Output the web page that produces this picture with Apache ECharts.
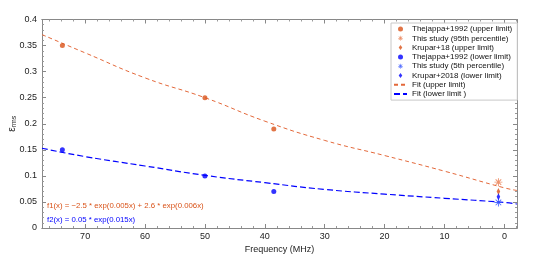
<!DOCTYPE html>
<html><head><meta charset="utf-8">
<script src="https://cdn.jsdelivr.net/npm/echarts@6/dist/echarts.min.js"></script>
<style>html,body{margin:0;padding:0;background:#fff}#c{width:540px;height:257px}</style>
</head><body><div id="c"></div>
<script>
// ---- data ----
const thejappaUpper = [[73.8, 0.35], [50, 0.25], [38.5, 0.19]];
const thejappaLower = [[73.8, 0.15], [50, 0.10], [38.5, 0.07]];
const studyUpper = [[1, 0.088]];
const studyLower = [[1, 0.049]];
const kruparUpper = [[1, 0.070]];
const kruparLower = [[1, 0.060]];
const fitUpper = [[77.2, 0.371], [70, 0.336], [60, 0.288], [50, 0.250], [40, 0.205], [30, 0.168], [20, 0.139], [10, 0.109], [0, 0.077], [-2.1, 0.072]];
const fitLower = [[77.2, 0.153], [70, 0.137], [60, 0.119], [50, 0.101], [40, 0.087], [30, 0.074], [20, 0.065], [10, 0.057], [0, 0.049], [-2.1, 0.046]];
const xRange = [-2.1, 77.2];
const yRange = [0, 0.4];
const xMajorTicks = [0, 10, 20, 30, 40, 50, 60, 70];
const xMinorTicks = [-2, 2, 4, 6, 8, 12, 14, 16, 18, 22, 24, 26, 28, 32, 34, 36, 38, 42, 44, 46, 48, 52, 54, 56, 58, 62, 64, 66, 68, 72, 74, 76];
const f1Text = 'f1(x) = \u22122.5 * exp(0.005x) + 2.6 * exp(0.006x)';
const f2Text = 'f2(x) = 0.05 * exp(0.015x)';
const legendNames = ['Thejappa+1992 (upper limit)', 'This study (95th percentile)', 'Krupar+18 (upper limit)',
  'Thejappa+1992 (lower limit)', 'This study (5th percentile)', 'Krupar+2018 (lower limit)',
  'Fit (upper limit)', 'Fit (lower limit )'];

const ORANGE = '#D95319';
const BLUE = '#0000FF';
const AST = 'path://M-0.6,-5L0.6,-5L0.6,5L-0.6,5ZM-5,-0.6L5,-0.6L5,0.6L-5,0.6ZM-3.08,-3.92L3.92,3.08L3.08,3.92L-3.92,-3.08ZM3.08,-3.92L3.92,-3.08L-3.08,3.92L-3.92,3.08Z';
const DIA = 'path://M0,-7L5,0L0,7L-5,0Z';
const FONT = 'Liberation Sans';
const AXC = '#888';

function xAx(opts) {
  return Object.assign({
    type: 'value', inverse: true, min: xRange[0], max: xRange[1],
    axisLine: {show: true, onZero: false, lineStyle: {color: AXC}},
    axisTick: {show: false}, axisLabel: {show: false}, splitLine: {show: false},
  }, opts);
}
function yAx(opts) {
  return Object.assign({
    type: 'value', min: yRange[0], max: yRange[1], interval: 0.05,
    axisLine: {show: true, onZero: false, lineStyle: {color: AXC}},
    axisTick: {show: true, inside: true, length: 4, lineStyle: {color: AXC}},
    minorTick: {show: true, splitNumber: 5, length: 2, lineStyle: {color: '#999'}},
    axisLabel: {show: false}, splitLine: {show: false},
  }, opts);
}

const chart = echarts.init(document.getElementById('c'), null, {renderer: 'canvas'});
chart.setOption({
  animation: false,
  textStyle: {fontFamily: FONT},
  grid: {left: 42, right: 23, top: 19.5, bottom: 29, containLabel: false, outerBoundsMode: 'none'},
  xAxis: [
    xAx({
      position: 'bottom',
      axisTick: {show: true, inside: true, length: 4, customValues: xMajorTicks, lineStyle: {color: AXC}},
      axisLabel: {show: true, customValues: xMajorTicks, fontSize: 9, color: '#222', margin: 4, fontFamily: FONT},
      name: 'Frequency (MHz)', nameLocation: 'middle', nameGap: 17, nameMoveOverlap: false,
      nameTextStyle: {fontSize: 9, color: '#222', fontFamily: FONT},
    }),
    xAx({position: 'bottom', axisTick: {show: true, inside: true, length: 2, customValues: xMinorTicks, lineStyle: {color: '#999'}}}),
    xAx({
      position: 'top',
      axisTick: {show: true, inside: true, length: 4, customValues: xMajorTicks, lineStyle: {color: AXC}},
    }),
    xAx({position: 'top', axisTick: {show: true, inside: true, length: 2, customValues: xMinorTicks, lineStyle: {color: '#999'}}}),
  ],
  yAxis: [
    yAx({
      position: 'left',
      name: '{e|\u03b5}{s|rms}', nameLocation: 'middle', nameGap: 24, nameRotate: 90, nameMoveOverlap: false,
      nameTextStyle: {rich: {e: {fontSize: 10, color: '#222', fontFamily: FONT}, s: {fontSize: 7, color: '#222', verticalAlign: 'bottom', padding: [4, 0, 0, 0], fontFamily: FONT}}},
      axisLabel: {show: true, fontSize: 9, color: '#222', margin: 5, fontFamily: FONT},
    }),
    yAx({position: 'right'}),
  ],
  legend: {
    orient: 'vertical', left: 391, top: 23,
    backgroundColor: '#fff', borderColor: '#c8c8c8', borderWidth: 1,
    padding: [2, 5, 2, 2],
    itemWidth: 13, itemHeight: 5, itemGap: 1.3, symbolKeepAspect: true,
    textStyle: {fontSize: 8, lineHeight: 8, color: '#111', fontFamily: FONT},
    data: legendNames.map(function (n, i) {
      return i >= 6 ? {name: n, itemStyle: {color: 'rgba(0,0,0,0)', borderWidth: 0, opacity: 0}} : {name: n};
    }),
  },
  graphic: [
    {type: 'text', left: 47, top: 202, style: {text: f1Text, fill: ORANGE, font: '7.8px "Liberation Sans"'}},
    {type: 'text', left: 47, top: 215.5, style: {text: f2Text, fill: BLUE, font: '7.8px "Liberation Sans"'}},
  ],
  series: [
    {name: legendNames[6], type: 'line', xAxisIndex: 0, yAxisIndex: 0, data: fitUpper, smooth: true, symbol: 'none', z: 1,
     lineStyle: {color: '#E3683A', width: 1, type: [4, 3]}, itemStyle: {color: '#E3683A'}},
    {name: legendNames[7], type: 'line', xAxisIndex: 0, yAxisIndex: 0, data: fitLower, smooth: true, symbol: 'none', z: 1,
     lineStyle: {color: BLUE, width: 1.2, type: [6, 3]}, itemStyle: {color: BLUE}},
    {name: legendNames[0], type: 'scatter', data: thejappaUpper, symbol: 'circle', symbolSize: 5, itemStyle: {color: ORANGE}, z: 3},
    {name: legendNames[1], type: 'scatter', data: studyUpper, symbol: AST, symbolSize: 8, symbolKeepAspect: true, itemStyle: {color: '#E8784A'}, z: 3},
    {name: legendNames[2], type: 'scatter', data: kruparUpper, symbol: DIA, symbolSize: [5, 7], symbolKeepAspect: true, itemStyle: {color: ORANGE}, z: 3},
    {name: legendNames[3], type: 'scatter', data: thejappaLower, symbol: 'circle', symbolSize: 5, itemStyle: {color: BLUE}, z: 3},
    {name: legendNames[4], type: 'scatter', data: studyLower, symbol: AST, symbolSize: 8, symbolKeepAspect: true, itemStyle: {color: '#3050FF'}, z: 3},
    {name: legendNames[5], type: 'scatter', data: kruparLower, symbol: DIA, symbolSize: [5, 7], symbolKeepAspect: true, itemStyle: {color: BLUE}, z: 3},
  ],
});
</script></body></html>
